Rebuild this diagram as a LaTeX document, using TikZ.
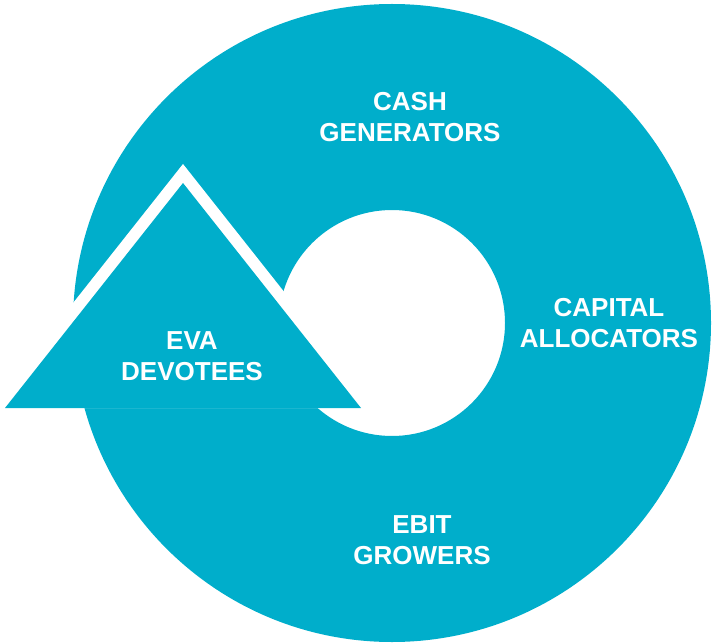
\documentclass[tikz,border=0pt]{standalone}
\usepackage{fontspec}
\setmainfont{Liberation Sans}
\definecolor{evablue}{RGB}{0,174,203}

\begin{document}
\begin{tikzpicture}[
    x=1pt, y=-1pt,
    ringtext/.style={text=white, align=center, inner sep=0pt,
        font=\bfseries\fontsize{26}{31}\selectfont}
]
\useasboundingbox (0,0) rectangle (714,644);

% Ring
\fill[evablue, even odd rule] (392,323) circle (319) (392,323) circle (113);

% Arrowhead with white edge
\fill[white] (183,164) -- (376,408) -- (-10,408) -- cycle;
\fill[evablue] (183,183) -- (361,408) -- (5,408) -- cycle;

% Labels
\node[ringtext] (cash) at (410,117) {CASH\\GENERATORS};
\node[ringtext] (capital) at (609,323) {CAPITAL\\ALLOCATORS};
\node[ringtext] (eva) at (192,356) {EVA\\DEVOTEES};
\node[ringtext] (ebit) at (422,540) {EBIT\\GROWERS};
\end{tikzpicture}
\end{document}
